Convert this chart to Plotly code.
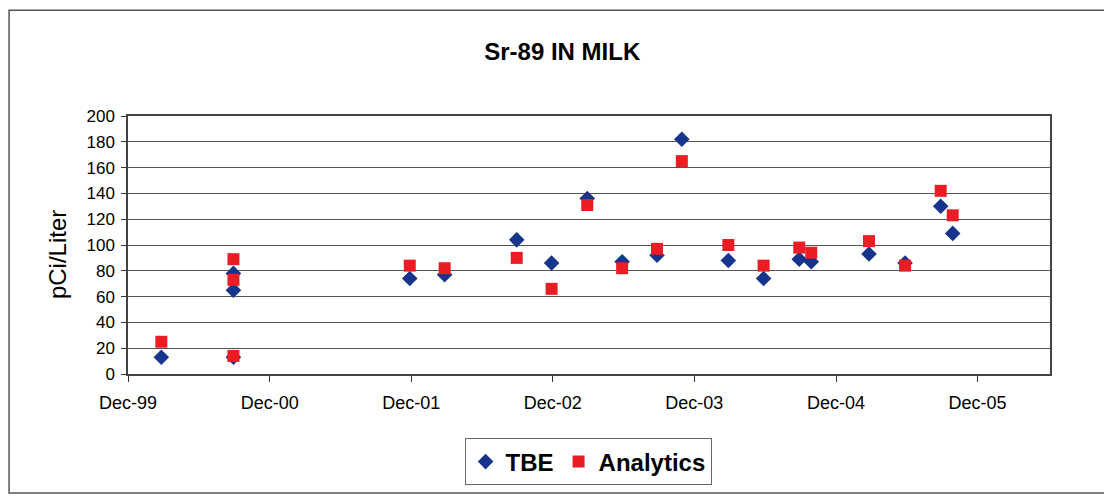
import plotly.graph_objects as go

# sampling dates (quarterly milk samples)
sample_dates = ["2000-02-25", "2000-08-29", "2000-08-29", "2000-08-29",
                "2001-11-27", "2002-02-25", "2002-08-30", "2002-11-28",
                "2003-02-28", "2003-05-29", "2003-08-27", "2003-10-30",
                "2004-02-27", "2004-05-28", "2004-08-28", "2004-09-28",
                "2005-02-24", "2005-05-28", "2005-08-28", "2005-09-28"]
tbe = [13, 78, 65, 13, 74, 77, 104, 86, 136, 87, 92, 182,
       88, 74, 89, 87, 93, 86, 130, 109]
analytics = [25, 89, 73, 14, 84, 82, 90, 66, 131, 82, 97, 165,
             100, 84, 98, 94, 103, 84, 142, 123]

tick_dates = ["1999-12-01", "2000-12-01", "2001-12-01", "2002-12-01",
              "2003-12-01", "2004-12-01", "2005-12-01"]
tick_labels = ["Dec-99", "Dec-00", "Dec-01", "Dec-02", "Dec-03", "Dec-04", "Dec-05"]

font = "Liberation Sans, Arial, sans-serif"

fig = go.Figure()
fig.add_trace(go.Scatter(
    x=sample_dates, y=tbe, mode="markers", name="TBE",
    marker=dict(symbol="diamond", size=12, color="#17348c")))
fig.add_trace(go.Scatter(
    x=sample_dates, y=analytics, mode="markers", name="Analytics",
    marker=dict(symbol="square", size=12, color="#ec1c24")))

# page body has an 8px margin, so the figure is 8px smaller each way
fig.update_layout(
    width=1104, height=492,
    margin=dict(l=120, r=62, t=108, b=126),
    paper_bgcolor="white", plot_bgcolor="white",
    font=dict(family=font, color="black"),
    title=dict(text="<b>Sr-89 IN MILK</b>", font=dict(size=24),
               xref="container", x=0.502, xanchor="center",
               yref="container", y=0.912, yanchor="middle"),
    showlegend=True,
    legend=dict(orientation="h", xref="paper", yref="paper",
                x=0.499, y=-0.341, xanchor="center", yanchor="middle",
                font=dict(size=24, family=font, weight="bold"),
                bordercolor="#666", borderwidth=1, bgcolor="white",
                itemwidth=30, tracegroupgap=0),
    annotations=[dict(text="pCi/Liter", textangle=-90, showarrow=False,
                      xref="paper", yref="paper", x=-0.077, y=0.461,
                      xanchor="center", yanchor="middle",
                      font=dict(size=24, family=font))],
    shapes=[dict(type="rect", xref="paper", yref="paper",
                 x0=-0.129, x1=1.08, y0=-0.461, y1=1.41,
                 line=dict(color="#555", width=1.5), layer="below")],
)

fig.update_xaxes(
    type="date", range=["1999-12-01", "2006-06-06"],
    tickvals=tick_dates, ticktext=tick_labels,
    tickfont=dict(size=18), ticks="outside", ticklen=6, tickcolor="#333",
    showgrid=False, showline=True, linecolor="#444", linewidth=1.5,
    mirror=True, zeroline=False, ticklabelstandoff=6)
fig.update_yaxes(
    range=[0, 200], tickvals=list(range(0, 201, 20)),
    tickfont=dict(size=17), ticks="outside", ticklen=5, tickcolor="#333",
    showgrid=True, gridcolor="#555", gridwidth=1,
    showline=True, linecolor="#444", linewidth=1.5, mirror=True,
    zeroline=False, ticklabelstandoff=3)

fig.write_html("out.html")
